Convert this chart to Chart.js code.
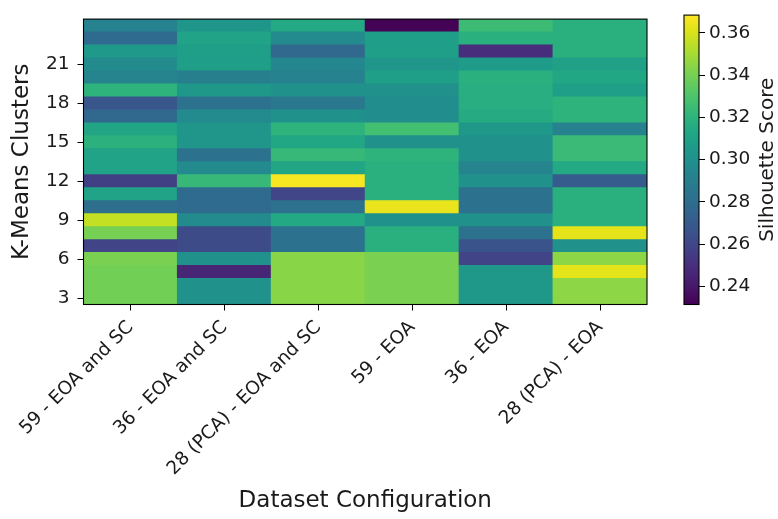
<!DOCTYPE html>
<html><head><meta charset="utf-8">
<script src="https://cdn.jsdelivr.net/npm/chart.js@4.4.0/dist/chart.umd.min.js"></script>
<style>
html,body{margin:0;padding:0;background:#fff;}
#wrap{position:relative;width:778px;height:519px;overflow:hidden;}
#main{position:absolute;left:0;top:0;}
#cbar{position:absolute;left:660px;top:0;}
</style></head>
<body><div id="wrap"><canvas id="main" width="660" height="519"></canvas><canvas id="cbar" width="118" height="519"></canvas></div>
<script>
// ---- data ----
const categories = ['59 - EOA and SC', '36 - EOA and SC', '28 (PCA) - EOA and SC', '59 - EOA', '36 - EOA', '28 (PCA) - EOA'];
const kValues = [3,4,5,6,7,8,9,10,11,12,13,14,15,16,17,18,19,20,21,22,23,24];
const yTickValues = [3,6,9,12,15,18,21];
const colorTicks = [0.24,0.26,0.28,0.30,0.32,0.34,0.36];
const colorMin = 0.2314, colorMax = 0.3684;
// silhouette scores per configuration, k = 3 .. 24
const s59EoaSc    = [0.339,0.339,0.339,0.341,0.259,0.340,0.356,0.281,0.311,0.257,0.311,0.311,0.319,0.312,0.277,0.268,0.320,0.293,0.297,0.305,0.279,0.292];
const s36EoaSc    = [0.300,0.300,0.246,0.300,0.262,0.262,0.297,0.279,0.279,0.323,0.296,0.283,0.303,0.303,0.296,0.283,0.304,0.290,0.308,0.308,0.311,0.303];
const s28PcaEoaSc = [0.344,0.344,0.344,0.344,0.283,0.283,0.314,0.283,0.260,0.367,0.312,0.323,0.313,0.320,0.300,0.286,0.300,0.292,0.294,0.277,0.297,0.314];
const s59Eoa      = [0.341,0.341,0.341,0.341,0.318,0.318,0.300,0.364,0.318,0.318,0.318,0.320,0.300,0.327,0.298,0.298,0.300,0.308,0.303,0.308,0.308,0.232];
const s36Eoa      = [0.304,0.304,0.304,0.259,0.266,0.283,0.300,0.283,0.283,0.300,0.293,0.300,0.300,0.304,0.315,0.317,0.317,0.318,0.306,0.249,0.318,0.325];
const s28PcaEoa   = [0.345,0.345,0.363,0.345,0.300,0.363,0.318,0.318,0.318,0.271,0.314,0.324,0.324,0.292,0.320,0.320,0.308,0.313,0.309,0.318,0.318,0.318];
const columns = [s59EoaSc, s36EoaSc, s28PcaEoaSc, s59Eoa, s36Eoa, s28PcaEoa];

// ---- colormap ----
const VIRIDIS = ['#440154','#471365','#482475','#463480','#414487','#3b528b','#355f8d','#2f6c8e','#2a788e','#25848e','#21918c','#1e9c89','#22a884','#2fb47c','#44bf70','#5ec962','#7ad151','#9bd93c','#bddf26','#dfe318','#fde725'];
function hex2rgb(h){return [parseInt(h.slice(1,3),16),parseInt(h.slice(3,5),16),parseInt(h.slice(5,7),16)];}
function viridisT(t){
  t=Math.max(0,Math.min(1,t));
  const p=t*(VIRIDIS.length-1);
  const i=Math.min(Math.floor(p),VIRIDIS.length-2);
  const f=p-i; const a=hex2rgb(VIRIDIS[i]), b=hex2rgb(VIRIDIS[i+1]);
  return 'rgb('+a.map((c,j)=>Math.round(c+(b[j]-c)*f)).join(',')+')';
}
function viridis(v){return viridisT((v-colorMin)/(colorMax-colorMin));}

Chart.defaults.font.family = "'DejaVu Sans', sans-serif";
Chart.defaults.color = '#1a1a1a';

const TICK_FONT = 18.5;
const TITLE_FONT = 23;
const PLOT_TOP = 6.7, PLOT_BOTTOM = 304.5, PLOT_LEFT = 83.5, PLOT_RIGHT = 647;

const framePlugin = {
  id: 'frame',
  afterDraw(chart){
    const {ctx, chartArea:a} = chart;
    ctx.save(); ctx.strokeStyle='#000'; ctx.lineWidth=1.1;
    ctx.strokeRect(a.left, a.top, a.right-a.left, a.bottom-a.top);
    ctx.restore();
  }
};

const datasets = kValues.map((k,i)=>({
  label: 'k=' + k,
  data: columns.map(()=>[k-0.5, k+0.5]),
  backgroundColor: columns.map(col=>viridis(col[i])),
  borderWidth: 0,
  inflateAmount: 0.5,
  barPercentage: 1,
  categoryPercentage: 1,
  grouped: false
}));

new Chart(document.getElementById('main'), {
  type: 'bar',
  data: { labels: categories, datasets },
  options: {
    responsive: false, animation: false, devicePixelRatio: 1,
    layout: { padding: { top: PLOT_TOP, right: 660-PLOT_RIGHT, left: 0, bottom: 0 } },
    plugins: { legend: {display:false}, tooltip: {enabled:false} },
    scales: {
      x: {
        type: 'category', offset: true,
        grid: { display: true, drawOnChartArea: false, offset: false, tickLength: 6, color: '#000', tickColor:'#000' },
        border: { display: false },
        ticks: { autoSkip: false, maxRotation: 45, minRotation: 45, padding: 6, font: {size: TICK_FONT}, color:'#1a1a1a' },
        title: { display: true, text: 'Dataset Configuration', font: {size: TITLE_FONT}, padding: {top: 4, bottom: 4}, color:'#1a1a1a' },
        afterFit(s){ s.height = 519 - PLOT_BOTTOM; }
      },
      y: {
        type: 'linear', min: 2.5, max: 24.5,
        afterBuildTicks(s){ s.ticks = yTickValues.map(v=>({value:v})); },
        grid: { display: true, drawOnChartArea: false, tickLength: 6, color:'#000', tickColor:'#000' },
        border: { display: false },
        ticks: { padding: 8, font: {size: TICK_FONT}, color:'#1a1a1a' },
        title: { display: true, text: 'K-Means Clusters', font: {size: TITLE_FONT}, padding: {top: 8, bottom: 0}, color:'#1a1a1a' },
        afterFit(s){ s.width = PLOT_LEFT; }
      }
    }
  },
  plugins: [framePlugin]
});

// ---- colorbar ----
const CB_LEFT = 684 - 660, CB_RIGHT = 699 - 660;
const cbarPlugin = {
  id: 'cbarFill',
  beforeDatasetsDraw(chart){
    const {ctx, chartArea:a} = chart;
    const g = ctx.createLinearGradient(0, a.bottom, 0, a.top);
    VIRIDIS.forEach((c,i)=>g.addColorStop(i/(VIRIDIS.length-1), c));
    ctx.save(); ctx.fillStyle = g; ctx.fillRect(a.left, a.top, a.right-a.left, a.bottom-a.top); ctx.restore();
  },
  afterDraw(chart){
    const {ctx, chartArea:a} = chart;
    ctx.save(); ctx.strokeStyle='#000'; ctx.lineWidth=1.1;
    ctx.strokeRect(a.left, a.top, a.right-a.left, a.bottom-a.top);
    ctx.translate(108, (a.top+a.bottom)/2);
    ctx.rotate(-Math.PI/2);
    ctx.fillStyle='#1a1a1a'; ctx.font = "20px 'DejaVu Sans'"; ctx.textAlign='center'; ctx.textBaseline='middle';
    ctx.fillText('Silhouette Score', 0, 0);
    ctx.restore();
  }
};
new Chart(document.getElementById('cbar'), {
  type: 'bar',
  data: { labels: [''], datasets: [{ data: [], backgroundColor: 'rgba(0,0,0,0)' }] },
  options: {
    responsive: false, animation: false, devicePixelRatio: 1,
    layout: { padding: { top: PLOT_TOP, left: CB_LEFT, right: 0, bottom: 519 - PLOT_BOTTOM } },
    plugins: { legend: {display:false}, tooltip: {enabled:false} },
    scales: {
      x: { display: false },
      y: {
        type: 'linear', position: 'right', min: colorMin, max: colorMax,
        afterBuildTicks(s){ s.ticks = colorTicks.map(v=>({value:v})); },
        grid: { display: true, drawOnChartArea: false, tickLength: 6, color:'#000', tickColor:'#000' },
        border: { display: false },
        ticks: { padding: 4, font: {size: TICK_FONT}, color:'#1a1a1a', callback: v => Number(v).toFixed(2) },
        afterFit(s){ s.width = 118 - CB_RIGHT; }
      }
    }
  },
  plugins: [cbarPlugin]
});
</script>
</body></html>
